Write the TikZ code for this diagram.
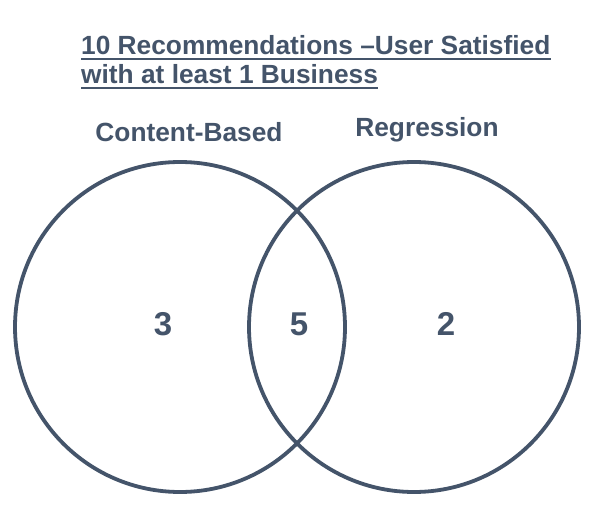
\documentclass[tikz,border=0pt]{standalone}
\usepackage{fontspec}
\setmainfont{Liberation Sans}
\definecolor{slate}{HTML}{44546A}
\begin{document}
\begin{tikzpicture}[x=1pt,y=-1pt,
  venn/.style={draw=slate,line width=3.8pt},
  lbl/.style={text=slate,font=\bfseries\fontsize{26.3}{30}\selectfont,inner sep=0pt,anchor=base},
  num/.style={text=slate,font=\bfseries\fontsize{33}{38}\selectfont,inner sep=0pt,anchor=base},
  uline/.style={draw=slate,line width=2.4pt}]
\useasboundingbox (0,0) rectangle (604,510);
\fill[white] (0,0) rectangle (604,510);
\node[venn,circle,minimum size=330pt,inner sep=0pt] (cb) at (180,327) {};
\node[venn,circle,minimum size=330pt,inner sep=0pt] (rg) at (414,327) {};
\node[lbl,anchor=base west] (t1) at (81,55) {10 Recommendations –User Satisfied};
\node[lbl,anchor=base west] (t2) at (81,84) {with at least 1 Business};
\draw[uline] (t1.south west) ++(0,3.5) coordinate (u1a) -- (u1a -| t1.south east);
\draw[uline] (t2.south west) ++(0,3.5) coordinate (u2a) -- (u2a -| t2.south east);
\node[lbl] (lcb) at (189,142) {Content-Based};
\node[lbl] (lrg) at (427,137) {Regression};
\node[num] (n3) at (163,335) {3};
\node[num] (n5) at (299,335) {5};
\node[num] (n2) at (446,335) {2};
\end{tikzpicture}
\end{document}
